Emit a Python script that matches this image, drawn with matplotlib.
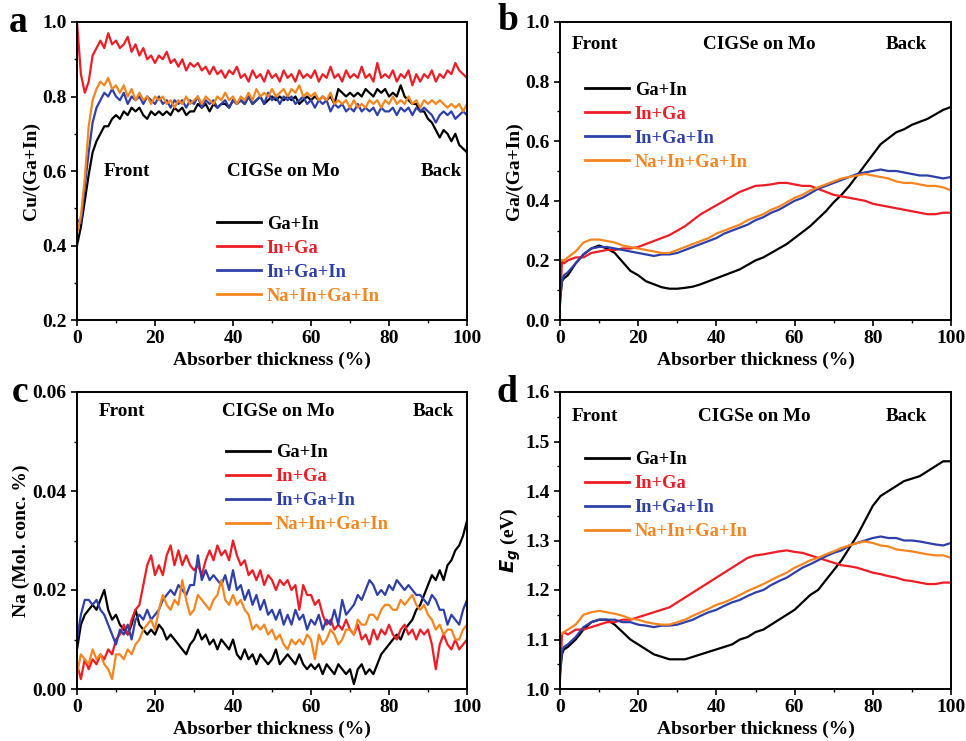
import numpy as np
import matplotlib
matplotlib.use('Agg')
import matplotlib.pyplot as plt
from matplotlib.ticker import MultipleLocator

plt.rcParams['font.family'] = 'Liberation Serif'
plt.rcParams['font.weight'] = 'bold'
plt.rcParams['axes.labelweight'] = 'bold'

labels = ['Ga+In', 'In+Ga', 'In+Ga+In', 'Na+In+Ga+In']
colors = ['#000000', '#ee1c25', '#2f3fa8', '#f5851f']

# panels a and c: x every 1 %
x_ac = np.arange(0, 101, 1)

cu_ga_in = [0.40, 0.45, 0.52, 0.59, 0.65, 0.68, 0.70, 0.72, 0.72, 0.74,
            0.75, 0.74, 0.76, 0.75, 0.77, 0.76, 0.77, 0.75, 0.74, 0.76,
            0.75, 0.76, 0.75, 0.76, 0.75, 0.77, 0.76, 0.77, 0.75, 0.76,
            0.76, 0.78, 0.77, 0.78, 0.76, 0.78, 0.77, 0.78, 0.78, 0.77,
            0.79, 0.78, 0.79, 0.78, 0.80, 0.78, 0.79, 0.80, 0.78, 0.79,
            0.80, 0.79, 0.80, 0.79, 0.80, 0.79, 0.80, 0.78, 0.79, 0.80,
            0.79, 0.80, 0.79, 0.80, 0.79, 0.80, 0.78, 0.82, 0.81, 0.80,
            0.81, 0.80, 0.81, 0.80, 0.82, 0.81, 0.80, 0.82, 0.81, 0.82,
            0.80, 0.81, 0.80, 0.83, 0.80, 0.79, 0.78, 0.78, 0.76, 0.76,
            0.74, 0.73, 0.71, 0.69, 0.71, 0.70, 0.68, 0.70, 0.67, 0.66,
            0.65]
cu_in_ga = [1.00, 0.86, 0.81, 0.84, 0.91, 0.93, 0.95, 0.93, 0.97, 0.94,
            0.95, 0.93, 0.94, 0.96, 0.92, 0.94, 0.91, 0.93, 0.90, 0.91,
            0.89, 0.91, 0.90, 0.92, 0.89, 0.90, 0.88, 0.90, 0.87, 0.89,
            0.88, 0.89, 0.87, 0.88, 0.86, 0.88, 0.86, 0.87, 0.85, 0.87,
            0.86, 0.88, 0.85, 0.86, 0.84, 0.87, 0.85, 0.86, 0.84, 0.87,
            0.85, 0.86, 0.84, 0.87, 0.85, 0.86, 0.84, 0.87, 0.85, 0.86,
            0.85, 0.87, 0.84, 0.86, 0.85, 0.88, 0.85, 0.86, 0.84, 0.87,
            0.85, 0.86, 0.85, 0.88, 0.85, 0.86, 0.84, 0.89, 0.85, 0.86,
            0.85, 0.87, 0.84, 0.86, 0.85, 0.87, 0.83, 0.86, 0.84, 0.86,
            0.85, 0.87, 0.84, 0.86, 0.85, 0.87, 0.86, 0.89, 0.87, 0.86,
            0.85]
cu_in_ga_in = [0.47, 0.46, 0.56, 0.65, 0.73, 0.77, 0.79, 0.81, 0.80, 0.82,
               0.80, 0.79, 0.81, 0.78, 0.80, 0.79, 0.80, 0.78, 0.80, 0.79,
               0.78, 0.80, 0.78, 0.79, 0.77, 0.79, 0.78, 0.79, 0.77, 0.79,
               0.78, 0.80, 0.77, 0.79, 0.78, 0.79, 0.77, 0.78, 0.79, 0.77,
               0.79, 0.78, 0.79, 0.78, 0.80, 0.78, 0.79, 0.80, 0.78, 0.81,
               0.79, 0.80, 0.78, 0.80, 0.79, 0.80, 0.78, 0.79, 0.80, 0.78,
               0.79, 0.77, 0.79, 0.78, 0.79, 0.76, 0.78, 0.77, 0.78, 0.76,
               0.77, 0.76, 0.78, 0.76, 0.77, 0.76, 0.77, 0.75, 0.77, 0.76,
               0.76, 0.77, 0.75, 0.77, 0.76, 0.77, 0.75, 0.77, 0.76, 0.77,
               0.76, 0.75, 0.73, 0.75, 0.76, 0.75, 0.76, 0.74, 0.75, 0.76,
               0.75]
cu_na = [0.43, 0.48, 0.58, 0.72, 0.79, 0.82, 0.84, 0.83, 0.85, 0.82,
         0.83, 0.81, 0.83, 0.80, 0.82, 0.79, 0.81, 0.79, 0.80, 0.78,
         0.80, 0.79, 0.80, 0.78, 0.79, 0.77, 0.79, 0.78, 0.80, 0.78,
         0.79, 0.80, 0.78, 0.80, 0.79, 0.78, 0.80, 0.79, 0.81, 0.79,
         0.80, 0.78, 0.80, 0.79, 0.81, 0.79, 0.82, 0.80, 0.81, 0.80,
         0.82, 0.80, 0.81, 0.82, 0.80, 0.82, 0.81, 0.83, 0.80, 0.81,
         0.80, 0.81, 0.79, 0.80, 0.79, 0.81, 0.78, 0.79, 0.78, 0.79,
         0.77, 0.79, 0.77, 0.78, 0.77, 0.79, 0.78, 0.79, 0.77, 0.79,
         0.78, 0.80, 0.78, 0.79, 0.78, 0.80, 0.78, 0.79, 0.77, 0.79,
         0.78, 0.79, 0.78, 0.79, 0.78, 0.77, 0.78, 0.77, 0.78, 0.76,
         0.78]

na_ga_in = [0.008, 0.013, 0.015, 0.016, 0.017, 0.016, 0.018, 0.020, 0.016, 0.014,
            0.015, 0.013, 0.012, 0.011, 0.013, 0.016, 0.013, 0.012, 0.011, 0.012,
            0.011, 0.013, 0.012, 0.010, 0.011, 0.010, 0.009, 0.008, 0.007, 0.009,
            0.010, 0.012, 0.010, 0.011, 0.009, 0.010, 0.008, 0.010, 0.009, 0.008,
            0.010, 0.007, 0.006, 0.008, 0.006, 0.007, 0.005, 0.007, 0.006, 0.005,
            0.006, 0.008, 0.005, 0.006, 0.007, 0.006, 0.005, 0.007, 0.005, 0.004,
            0.005, 0.004, 0.005, 0.003, 0.005, 0.004, 0.003, 0.005, 0.004, 0.003,
            0.004, 0.001, 0.004, 0.005, 0.003, 0.004, 0.003, 0.005, 0.007, 0.008,
            0.009, 0.010, 0.011, 0.010, 0.012, 0.013, 0.014, 0.016, 0.017, 0.019,
            0.021, 0.023, 0.022, 0.024, 0.022, 0.025, 0.026, 0.028, 0.029, 0.031,
            0.034]
na_in_ga = [0.005, 0.002, 0.006, 0.004, 0.006, 0.005, 0.007, 0.006, 0.008, 0.007,
            0.010, 0.011, 0.013, 0.011, 0.014, 0.016, 0.017, 0.021, 0.025, 0.027,
            0.023, 0.025, 0.023, 0.027, 0.029, 0.025, 0.028, 0.025, 0.027, 0.025,
            0.024, 0.025, 0.023, 0.026, 0.028, 0.026, 0.029, 0.027, 0.028, 0.026,
            0.030, 0.027, 0.025, 0.026, 0.023, 0.024, 0.022, 0.024, 0.021, 0.023,
            0.022, 0.020, 0.022, 0.021, 0.022, 0.020, 0.021, 0.016, 0.021, 0.019,
            0.019, 0.017, 0.018, 0.015, 0.013, 0.014, 0.012, 0.013, 0.012, 0.014,
            0.012, 0.011, 0.013, 0.010, 0.011, 0.009, 0.012, 0.010, 0.012, 0.011,
            0.013, 0.011, 0.010, 0.012, 0.013, 0.011, 0.012, 0.010, 0.012, 0.011,
            0.012, 0.009, 0.004, 0.009, 0.011, 0.009, 0.008, 0.010, 0.008, 0.009,
            0.010]
na_in_ga_in = [0.010, 0.015, 0.018, 0.018, 0.017, 0.018, 0.016, 0.015, 0.013, 0.011,
               0.009, 0.012, 0.011, 0.013, 0.010, 0.014, 0.015, 0.014, 0.016, 0.014,
               0.015, 0.016, 0.018, 0.019, 0.020, 0.019, 0.021, 0.020, 0.019, 0.021,
               0.021, 0.027, 0.022, 0.024, 0.022, 0.023, 0.022, 0.021, 0.023, 0.020,
               0.024, 0.020, 0.021, 0.018, 0.020, 0.017, 0.019, 0.016, 0.018, 0.015,
               0.016, 0.014, 0.016, 0.013, 0.015, 0.013, 0.016, 0.014, 0.015, 0.012,
               0.014, 0.013, 0.015, 0.012, 0.014, 0.013, 0.016, 0.013, 0.018, 0.015,
               0.016, 0.017, 0.019, 0.018, 0.020, 0.022, 0.021, 0.019, 0.020, 0.019,
               0.021, 0.020, 0.022, 0.021, 0.020, 0.021, 0.020, 0.019, 0.019, 0.018,
               0.017, 0.019, 0.018, 0.016, 0.016, 0.013, 0.015, 0.014, 0.013, 0.016,
               0.018]
na_na = [0.003, 0.007, 0.006, 0.005, 0.008, 0.006, 0.007, 0.005, 0.004, 0.002,
         0.007, 0.007, 0.006, 0.008, 0.007, 0.009, 0.010, 0.012, 0.013, 0.014,
         0.012, 0.016, 0.019, 0.017, 0.016, 0.018, 0.017, 0.022, 0.018, 0.015,
         0.016, 0.019, 0.018, 0.017, 0.016, 0.018, 0.019, 0.022, 0.018, 0.017,
         0.019, 0.017, 0.018, 0.016, 0.015, 0.012, 0.013, 0.012, 0.013, 0.011,
         0.012, 0.010, 0.011, 0.009, 0.008, 0.010, 0.009, 0.010, 0.009, 0.011,
         0.010, 0.006, 0.011, 0.009, 0.010, 0.012, 0.011, 0.009, 0.010, 0.012,
         0.012, 0.011, 0.014, 0.013, 0.013, 0.015, 0.015, 0.014, 0.016, 0.017,
         0.017, 0.016, 0.016, 0.018, 0.017, 0.018, 0.019, 0.017, 0.016, 0.017,
         0.015, 0.014, 0.012, 0.013, 0.011, 0.012, 0.012, 0.010, 0.010, 0.012,
         0.013]

# panels b and d: smooth profiles, x every 2 % (plus start points)
x_bd = [0, 0.5, 1] + list(range(2, 101, 2))

ggi_ga_in = [0.06, 0.13, 0.14, 0.15, 0.19, 0.22, 0.24, 0.25, 0.24, 0.225, 0.195,
             0.165, 0.15, 0.13, 0.12, 0.11, 0.105, 0.105, 0.108, 0.112, 0.12,
             0.13, 0.14, 0.15, 0.16, 0.17, 0.185, 0.20, 0.21, 0.225, 0.24,
             0.255, 0.275, 0.295, 0.315, 0.34, 0.365, 0.395, 0.42, 0.45, 0.485,
             0.52, 0.555, 0.59, 0.61, 0.63, 0.64, 0.655, 0.665, 0.675, 0.69,
             0.705, 0.715]
ggi_in_ga = [0.05, 0.20, 0.19, 0.20, 0.21, 0.21, 0.225, 0.23, 0.235, 0.235, 0.24,
             0.24, 0.245, 0.255, 0.265, 0.275, 0.285, 0.30, 0.315, 0.335, 0.355,
             0.37, 0.385, 0.40, 0.415, 0.43, 0.44, 0.45, 0.452, 0.455, 0.46,
             0.46, 0.455, 0.45, 0.45, 0.44, 0.43, 0.42, 0.415, 0.41, 0.405,
             0.40, 0.39, 0.385, 0.38, 0.375, 0.37, 0.365, 0.36, 0.355, 0.355,
             0.36, 0.36]
ggi_in_ga_in = [0.08, 0.13, 0.15, 0.16, 0.19, 0.22, 0.24, 0.245, 0.245, 0.24, 0.235,
                0.23, 0.225, 0.22, 0.215, 0.22, 0.22, 0.225, 0.235, 0.245, 0.255,
                0.265, 0.275, 0.29, 0.30, 0.31, 0.32, 0.335, 0.345, 0.36, 0.37,
                0.385, 0.40, 0.41, 0.425, 0.44, 0.45, 0.46, 0.47, 0.48, 0.49,
                0.495, 0.50, 0.505, 0.50, 0.50, 0.495, 0.49, 0.485, 0.485, 0.48,
                0.475, 0.48]
ggi_na = [0.20, 0.20, 0.20, 0.21, 0.23, 0.26, 0.27, 0.27, 0.265, 0.26, 0.25,
          0.245, 0.24, 0.235, 0.23, 0.225, 0.225, 0.235, 0.245, 0.255, 0.265,
          0.275, 0.29, 0.30, 0.31, 0.32, 0.335, 0.345, 0.355, 0.37, 0.38,
          0.395, 0.41, 0.42, 0.435, 0.445, 0.455, 0.465, 0.475, 0.48, 0.485,
          0.49, 0.485, 0.48, 0.475, 0.465, 0.46, 0.46, 0.455, 0.45, 0.45,
          0.445, 0.435]

eg_ga_in = [1.03, 1.07, 1.08, 1.085, 1.10, 1.12, 1.135, 1.14, 1.14, 1.13, 1.115,
            1.10, 1.09, 1.08, 1.07, 1.065, 1.06, 1.06, 1.06, 1.065, 1.07,
            1.075, 1.08, 1.085, 1.09, 1.10, 1.105, 1.115, 1.12, 1.13, 1.14,
            1.15, 1.16, 1.175, 1.19, 1.20, 1.22, 1.24, 1.26, 1.285, 1.31,
            1.34, 1.37, 1.39, 1.40, 1.41, 1.42, 1.425, 1.43, 1.44, 1.45,
            1.46, 1.46]
eg_in_ga = [1.02, 1.11, 1.115, 1.11, 1.12, 1.12, 1.125, 1.13, 1.135, 1.135, 1.14,
            1.14, 1.145, 1.15, 1.155, 1.16, 1.165, 1.175, 1.185, 1.195, 1.205,
            1.215, 1.225, 1.235, 1.245, 1.255, 1.265, 1.27, 1.272, 1.275, 1.278,
            1.28, 1.277, 1.275, 1.27, 1.265, 1.26, 1.255, 1.25, 1.248, 1.245,
            1.24, 1.235, 1.232, 1.228, 1.225, 1.22, 1.218, 1.215, 1.212, 1.212,
            1.215, 1.215]
eg_in_ga_in = [1.04, 1.075, 1.085, 1.09, 1.105, 1.125, 1.135, 1.14, 1.14, 1.14, 1.135,
               1.135, 1.13, 1.128, 1.125, 1.128, 1.128, 1.13, 1.135, 1.14, 1.148,
               1.155, 1.16, 1.168, 1.175, 1.18, 1.188, 1.195, 1.20, 1.21, 1.218,
               1.225, 1.235, 1.245, 1.252, 1.26, 1.268, 1.275, 1.28, 1.29, 1.295,
               1.30, 1.305, 1.308, 1.305, 1.305, 1.30, 1.30, 1.298, 1.295, 1.292,
               1.29, 1.295]
eg_na = [1.11, 1.112, 1.115, 1.12, 1.13, 1.15, 1.155, 1.158, 1.155, 1.152, 1.148,
         1.142, 1.14, 1.135, 1.132, 1.13, 1.13, 1.135, 1.14, 1.148, 1.155,
         1.162, 1.17, 1.175, 1.182, 1.19, 1.198, 1.205, 1.212, 1.22, 1.228,
         1.235, 1.245, 1.252, 1.26, 1.265, 1.272, 1.278, 1.285, 1.29, 1.295,
         1.298, 1.295, 1.29, 1.288, 1.282, 1.28, 1.278, 1.275, 1.272, 1.27,
         1.27, 1.265]

fig = plt.figure(figsize=(9.66, 7.41), dpi=100)
W, H = 966, 741

def make_ax(l, t, r, b):
    return fig.add_axes([l / W, 1 - b / H, (r - l) / W, (b - t) / H])

ax_a = make_ax(77, 22, 467, 320)
ax_b = make_ax(560, 22, 951, 320)
ax_c = make_ax(77, 392, 467, 689)
ax_d = make_ax(560, 392, 951, 689)

panels = [
    (ax_a, x_ac, [cu_ga_in, cu_in_ga, cu_in_ga_in, cu_na], (0.2, 1.0), 0.2,
     'Cu/(Ga+In)', 'a', (0.359, 0.35), 0.50, [12.9, 53.0, 93.4], '%.1f'),
    (ax_b, x_bd, [ggi_ga_in, ggi_in_ga, ggi_in_ga_in, ggi_na], (0.0, 1.0), 0.2,
     'Ga/(Ga+In)', 'b', (0.064, 0.80), 0.923, [9.0, 51.1, 88.7], '%.1f'),
    (ax_c, x_ac, [na_ga_in, na_in_ga, na_in_ga_in, na_na], (0.0, 0.06), 0.02,
     'Na (Mol. conc. %)', 'c', (0.382, 0.825), 0.933, [11.6, 51.5, 91.5], '%.2f'),
    (ax_d, x_bd, [eg_ga_in, eg_in_ga, eg_in_ga_in, eg_na], (1.0, 1.6), 0.1,
     r'$\boldsymbol{E_g}$ (eV)', 'd', (0.064, 0.80), 0.919, [9.0, 49.6, 88.7], '%.1f'),
]

letter_pos = {'a': (18, 22), 'b': (508, 20), 'c': (20, 393), 'd': (507, 392)}

for ax, xs, ys, ylim, ystep, ylab, letter, legpos, ytxt, xtxt, fmt in panels:
    for y, c, lab in zip(ys, colors, labels):
        ax.plot(xs, y, color=c, lw=1.6, label=lab)
    ax.set_xlim(0, 100)
    ax.set_ylim(*ylim)
    ax.xaxis.set_major_locator(MultipleLocator(20))
    ax.xaxis.set_minor_locator(MultipleLocator(10))
    ax.yaxis.set_major_locator(MultipleLocator(ystep))
    ax.yaxis.set_minor_locator(MultipleLocator(ystep / 2))
    ax.yaxis.set_major_formatter(matplotlib.ticker.FormatStrFormatter(fmt))
    ax.tick_params(which='major', direction='out', length=4, width=1.2, labelsize=14)
    ax.tick_params(which='minor', direction='out', length=2.5, width=1.0)
    for s in ax.spines.values():
        s.set_linewidth(1.4)
    ax.set_xlabel('Absorber thickness (%)', fontsize=14, labelpad=3)
    ax.set_ylabel(ylab, fontsize=14, labelpad=1.5)
    for xt, txt in zip(xtxt, ['Front', 'CIGSe on Mo', 'Back']):
        ax.text(xt, ytxt, txt, transform=ax.get_xaxis_transform(),
                ha='center', va='center', fontsize=13.8, fontweight='bold')
    leg = ax.legend(loc='upper left', bbox_to_anchor=legpos, frameon=False,
                    fontsize=13.3, handlelength=2.4, handletextpad=0.3,
                    labelspacing=0.38, borderaxespad=0, borderpad=0)
    for t, c in zip(leg.get_texts(), colors):
        t.set_color(c)
    for h in leg.get_lines():
        h.set_linewidth(2.0)
    lx, ly = letter_pos[letter]
    fig.text(lx / W, 1 - ly / H, letter, ha='center', va='center',
             fontsize=27, fontweight='bold')

fig.savefig('out.png', dpi=100)
